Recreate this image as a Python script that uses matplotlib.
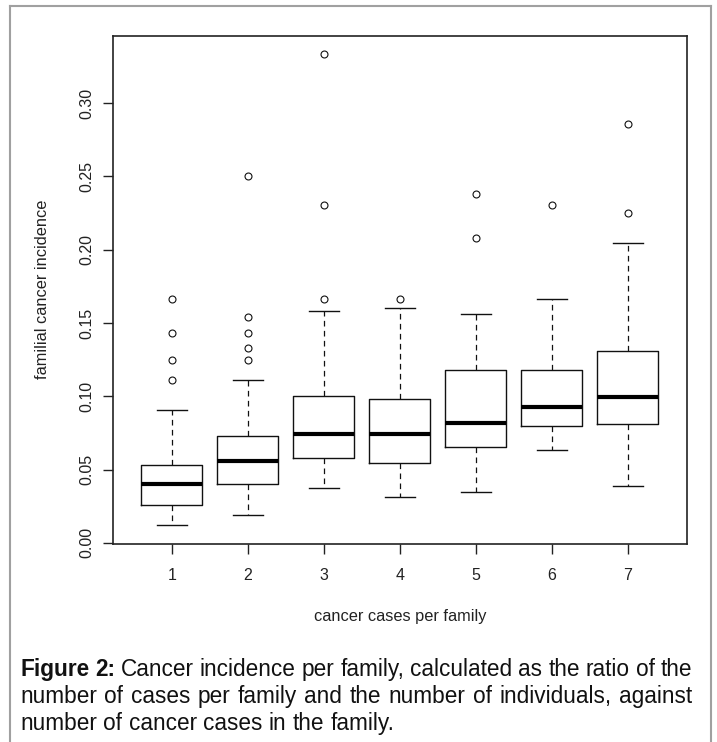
import matplotlib
matplotlib.use("Agg")
from matplotlib import pyplot as plt
from matplotlib.lines import Line2D

# box statistics (familial cancer incidence)
cases = [1, 2, 3, 4, 5, 6, 7]
whis_lo = [0.0121, 0.0192, 0.0374, 0.0310, 0.0347, 0.0634, 0.0388]
q1 = [0.0256, 0.0404, 0.0579, 0.0543, 0.0657, 0.0796, 0.0810]
median = [0.0404, 0.0557, 0.0746, 0.0746, 0.0817, 0.0924, 0.0992]
q3 = [0.0529, 0.0728, 0.0999, 0.0981, 0.1177, 0.1177, 0.1309]
whis_hi = [0.0910, 0.1111, 0.1579, 0.1600, 0.1563, 0.1667, 0.2049]
outliers = [
    [0.1111, 0.1250, 0.1429, 0.1667],
    [0.1250, 0.1333, 0.1429, 0.1538, 0.2500],
    [0.1667, 0.2308, 0.3333],
    [0.1667],
    [0.2083, 0.2381],
    [0.2308],
    [0.2250, 0.2857],
]
y_ticks = [0.00, 0.05, 0.10, 0.15, 0.20, 0.25, 0.30]
y_ticklabels = ["0.00", "0.05", "0.10", "0.15", "0.20", "0.25", "0.30"]

caption_lines = [
    "Cancer incidence per family, calculated as the ratio of the",
    "number of cases per family and the number of individuals, against",
    "number of cancer cases in the family.",
]

W, H = 717, 742
plt.rcParams['font.family'] = ['Liberation Sans', 'DejaVu Sans']
fig = plt.figure(figsize=(W / 100, H / 100), dpi=100)

ax = fig.add_axes([112.5 / W, 1 - 544 / H, (687 - 112.5) / W, (544 - 35.5) / H])

stats = []
for i in range(len(cases)):
    stats.append(dict(med=median[i], q1=q1[i], q3=q3[i],
                      whislo=whis_lo[i], whishi=whis_hi[i], fliers=outliers[i]))

ax.bxp(stats, positions=cases, widths=0.8, showfliers=True,
       boxprops=dict(color='#111111', linewidth=1.0),
       medianprops=dict(color='black', linewidth=3.0, solid_capstyle='butt'),
       whiskerprops=dict(color='#111111', linewidth=0.9, linestyle=(0, (4.5, 3.5))),
       capprops=dict(color='#111111', linewidth=1.0),
       flierprops=dict(marker='o', markersize=5, markerfacecolor='none',
                       markeredgecolor='#111111', markeredgewidth=0.8, linestyle='none'))

# R style limits: 4% padding
all_vals = whis_lo + whis_hi + [v for o in outliers for v in o]
lo, hi = min(all_vals), max(all_vals)
pad = 0.04 * (hi - lo)
ax.set_ylim(lo - pad, hi + pad)
ax.set_xlim(0.5 - 0.28, 7.5 + 0.28)

ax.set_xticks(cases)
ax.set_xticklabels([str(c) for c in cases])
ax.set_yticks(y_ticks)
ax.set_yticklabels(y_ticklabels, rotation=90, va='center')
ax.tick_params(axis='both', direction='out', length=7, width=1.0, color='#222222',
               labelsize=11.5, labelcolor='#222222')
ax.tick_params(axis='x', pad=10)
ax.tick_params(axis='y', pad=6)
for s in ax.spines.values():
    s.set_linewidth(1.2)
    s.set_color('#222222')

ax.set_xlabel("cancer cases per family", fontsize=11.8, labelpad=19, color='#222222')
ax.set_ylabel("familial cancer incidence", fontsize=11.8, labelpad=21, color='#222222')

# outer border (left, top, right)
gray = '#a0a0a0'
fig.add_artist(Line2D([9.5 / W, 9.5 / W], [0, 1 - 6 / H], color=gray, lw=1.5))
fig.add_artist(Line2D([9.5 / W, 711 / W], [1 - 6 / H, 1 - 6 / H], color=gray, lw=1.5))
fig.add_artist(Line2D([711 / W, 711 / W], [0, 1 - 6 / H], color=gray, lw=1.5))

# justified caption
renderer = fig.canvas.get_renderer()
x_left, x_right = 20, 692
baselines = [676, 703, 730]
cap_size = 16.3


def place_line(words, y_px, justify):
    texts = []
    widths = []
    for w, bold in words:
        t = fig.text(0, 1 - y_px / H, w, fontsize=cap_size, color='#111111',
                     fontweight='bold' if bold else 'normal', va='baseline', ha='left')
        texts.append(t)
        widths.append(t.get_window_extent(renderer).width)
    if justify and len(words) > 1:
        gap = (x_right - x_left - sum(widths)) / (len(words) - 1)
    else:
        gap = 0.28 * cap_size * 100 / 72
    x = x_left
    for t, wd in zip(texts, widths):
        t.set_x(x / W)
        x += wd + gap


line1 = [("Figure", True), ("2:", True)] + [(w, False) for w in caption_lines[0].split()]
place_line(line1, baselines[0], True)
place_line([(w, False) for w in caption_lines[1].split()], baselines[1], True)
place_line([(w, False) for w in caption_lines[2].split()], baselines[2], False)

fig.savefig("out.png", dpi=100)
